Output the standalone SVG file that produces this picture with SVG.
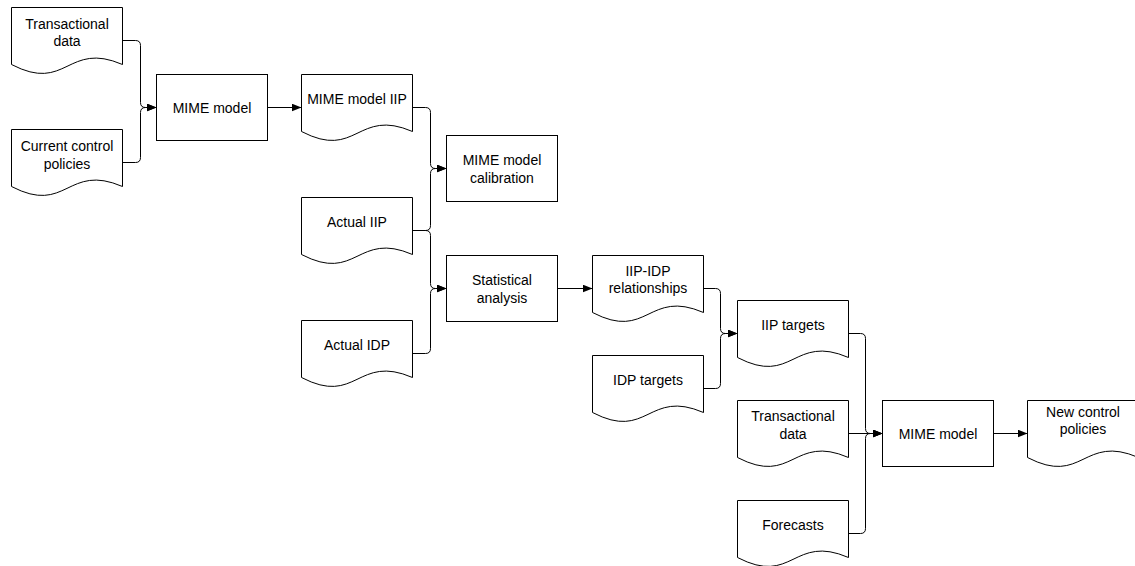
<svg xmlns="http://www.w3.org/2000/svg" xmlns:xlink="http://www.w3.org/1999/xlink" width="1135" height="566" viewBox="0 0 1135 566">
<style>
.shape{fill:#fff;stroke:#000;stroke-width:1}
.conn{fill:none;stroke:#000;stroke-width:1}
text{font-family:"Liberation Sans",Arial,sans-serif;font-size:14px;fill:#000;text-anchor:middle}
</style>
<defs>
<path id="doc" d="M0 0 H111 V57 C55.5 33 55.5 86 0 57 Z"/>
<marker id="arr" markerUnits="userSpaceOnUse" markerWidth="10" markerHeight="8" refX="10" refY="4" orient="auto">
<path d="M0 0 L10 4 L0 8 Z" fill="#000"/>
</marker>
</defs>
<rect width="1135" height="566" fill="#fff"/>

<g id="connectors">
<path class="conn" d="M122.5 40.5 H135.5 Q140.5 40.5 140.5 45.5 V102.5 Q140.5 107.5 145.5 107.5 H156.5" marker-end="url(#arr)"/>
<path class="conn" d="M122.5 162.5 H135.5 Q140.5 162.5 140.5 157.5 V112.5 Q140.5 107.5 145.5 107.5 H156.5" marker-end="url(#arr)"/>
<path class="conn" d="M267.5 107.5 H301.5" marker-end="url(#arr)"/>
<path class="conn" d="M412.5 107.5 H425.5 Q430.5 107.5 430.5 112.5 V163.5 Q430.5 168.5 435.5 168.5 H446.5" marker-end="url(#arr)"/>
<path class="conn" d="M412.5 230.5 H425.5 Q430.5 230.5 430.5 225.5 V173.5 Q430.5 168.5 435.5 168.5 H446.5" marker-end="url(#arr)"/>
<path class="conn" d="M412.5 230.5 H425.5 Q430.5 230.5 430.5 235.5 V283.5 Q430.5 288.5 435.5 288.5 H446.5" marker-end="url(#arr)"/>
<path class="conn" d="M412.5 353.5 H425.5 Q430.5 353.5 430.5 348.5 V293.5 Q430.5 288.5 435.5 288.5 H446.5" marker-end="url(#arr)"/>
<path class="conn" d="M557.5 288.5 H592.5" marker-end="url(#arr)"/>
<path class="conn" d="M703.5 288.5 H715.5 Q720.5 288.5 720.5 293.5 V328.5 Q720.5 333.5 725.5 333.5 H737.5" marker-end="url(#arr)"/>
<path class="conn" d="M703.5 388.5 H715.5 Q720.5 388.5 720.5 383.5 V338.5 Q720.5 333.5 725.5 333.5 H737.5" marker-end="url(#arr)"/>
<path class="conn" d="M848.5 333.5 H860.5 Q865.5 333.5 865.5 338.5 V428.5 Q865.5 433.5 870.5 433.5 H882.5" marker-end="url(#arr)"/>
<path class="conn" d="M848.5 433.5 H882.5" marker-end="url(#arr)"/>
<path class="conn" d="M848.5 533.5 H860.5 Q865.5 533.5 865.5 528.5 V438.5 Q865.5 433.5 870.5 433.5 H882.5" marker-end="url(#arr)"/>
<path class="conn" d="M993.5 433.5 H1027.5" marker-end="url(#arr)"/>
</g>

<g id="n-transactional-1"><use href="#doc" class="shape" x="11.5" y="7.5"/><text x="67" y="28.5">Transactional</text><text x="67" y="46">data</text></g>
<g id="n-current-policies"><use href="#doc" class="shape" x="11.5" y="129.5"/><text x="67" y="151">Current control</text><text x="67" y="168.5">policies</text></g>
<g id="n-mime-1"><rect class="shape" x="156.5" y="74.5" width="111" height="66"/><text x="212" y="112.5">MIME model</text></g>
<g id="n-mime-iip"><use href="#doc" class="shape" x="301.5" y="74.5"/><text x="357" y="103.5">MIME model IIP</text></g>
<g id="n-calibration"><rect class="shape" x="446.5" y="135.5" width="111" height="66"/><text x="502" y="165">MIME model</text><text x="502" y="183">calibration</text></g>
<g id="n-actual-iip"><use href="#doc" class="shape" x="301.5" y="197.5"/><text x="357" y="226.5">Actual IIP</text></g>
<g id="n-statistical"><rect class="shape" x="446.5" y="255.5" width="111" height="66"/><text x="502" y="284.5">Statistical</text><text x="502" y="302.5">analysis</text></g>
<g id="n-actual-idp"><use href="#doc" class="shape" x="301.5" y="320.5"/><text x="357" y="349.5">Actual IDP</text></g>
<g id="n-iip-idp"><use href="#doc" class="shape" x="592.5" y="255.5"/><text x="648" y="275.5">IIP-IDP</text><text x="648" y="293">relationships</text></g>
<g id="n-iip-targets"><use href="#doc" class="shape" x="737.5" y="300.5"/><text x="793" y="329.5">IIP targets</text></g>
<g id="n-idp-targets"><use href="#doc" class="shape" x="592.5" y="355.5"/><text x="648" y="384.5">IDP targets</text></g>
<g id="n-transactional-2"><use href="#doc" class="shape" x="737.5" y="400.5"/><text x="793" y="421">Transactional</text><text x="793" y="438.5">data</text></g>
<g id="n-forecasts"><use href="#doc" class="shape" x="737.5" y="500.5"/><text x="793" y="530">Forecasts</text></g>
<g id="n-mime-2"><rect class="shape" x="882.5" y="400.5" width="111" height="66"/><text x="938" y="438.5">MIME model</text></g>
<g id="n-new-policies"><use href="#doc" class="shape" x="1027.5" y="400.5"/><text x="1083" y="416.5">New control</text><text x="1083" y="434">policies</text></g>
</svg>
